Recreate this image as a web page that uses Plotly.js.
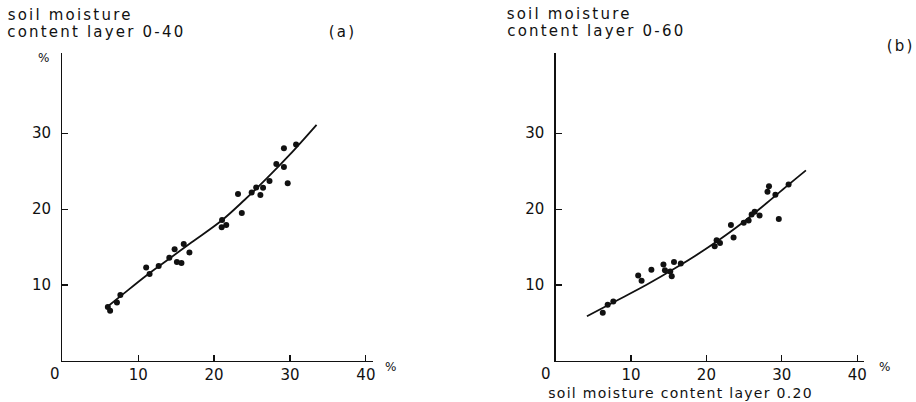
<!DOCTYPE html>
<html>
<head>
<meta charset="utf-8">
<script src="https://cdn.plot.ly/plotly-3.0.1.min.js"></script>
<style>
html,body{margin:0;padding:0;background:#fff;}
#chart{width:916px;height:402px;}
.annotation .annotation-text{letter-spacing:2.2px;}
.annotation[data-index="9"] .annotation-text{letter-spacing:1.3px;}
.annotation[data-index="6"] .annotation-text,
.annotation[data-index="7"] .annotation-text,
.annotation[data-index="8"] .annotation-text,
.annotation[data-index="10"] .annotation-text,
.annotation[data-index="11"] .annotation-text{letter-spacing:0;}
</style>
</head>
<body>
<div id="chart"></div>
<script>
// Panel (a): layer 0-20 vs layer 0-40 (%)
const aX = [6.0, 6.3, 7.2, 7.65, 11.05, 11.5, 12.7, 14.1, 14.8, 15.1, 15.7, 16.0, 16.75, 21.05, 21.0, 21.6, 23.15, 23.65, 24.95, 25.55, 26.1, 26.45, 27.3, 28.2, 29.2, 29.2, 29.7, 30.8];
const aY = [7.1, 6.6, 7.7, 8.7, 12.3, 11.45, 12.5, 13.6, 14.7, 13.05, 12.9, 15.4, 14.3, 18.55, 17.6, 17.9, 22.0, 19.5, 22.2, 22.85, 21.85, 22.8, 23.7, 25.95, 28.0, 25.55, 23.4, 28.5];
const aCurveX = [5.9, 8, 11, 14, 17, 21, 24, 27, 30, 33.5];
const aCurveY = [7.1, 8.8, 11.2, 13.4, 15.6, 18.5, 21.2, 24.1, 27.2, 31.1];

// Panel (b): layer 0-20 vs layer 0-60 (%)
const bX = [6.25, 6.9, 7.65, 10.95, 11.4, 12.7, 14.3, 14.5, 15.2, 15.4, 15.7, 16.6, 21.1, 21.35, 21.8, 23.25, 23.6, 24.95, 25.6, 26.4, 26.0, 27.05, 28.1, 28.3, 29.15, 29.6, 30.9];
const bY = [6.35, 7.4, 7.85, 11.25, 10.55, 12.0, 12.7, 11.95, 11.8, 11.15, 13.05, 12.85, 15.1, 15.9, 15.55, 17.9, 16.25, 18.2, 18.5, 19.65, 19.3, 19.15, 22.3, 23.0, 21.9, 18.7, 23.25];
const bCurveX = [4.15, 8, 12, 16, 20, 24, 28, 31, 33.2];
const bCurveY = [5.9, 7.9, 10.0, 12.3, 14.8, 17.6, 20.8, 23.3, 25.1];

const tickVals = [10, 20, 30, 40];
const yTickVals = [10, 20, 30];

const FONT = 'DejaVu Sans, sans-serif';
const ink = '#111';

const traces = [
  {x: aX, y: aY, xaxis: 'x', yaxis: 'y', mode: 'markers', type: 'scatter',
   marker: {color: ink, size: 6}, hoverinfo: 'skip'},
  {x: aCurveX, y: aCurveY, xaxis: 'x', yaxis: 'y', mode: 'lines', type: 'scatter',
   line: {color: ink, width: 1.8, shape: 'spline', smoothing: 1}, hoverinfo: 'skip'},
  {x: bX, y: bY, xaxis: 'x2', yaxis: 'y2', mode: 'markers', type: 'scatter',
   marker: {color: ink, size: 6}, hoverinfo: 'skip'},
  {x: bCurveX, y: bCurveY, xaxis: 'x2', yaxis: 'y2', mode: 'lines', type: 'scatter',
   line: {color: ink, width: 1.8, shape: 'spline', smoothing: 1}, hoverinfo: 'skip'}
];

function xAxis(domain, anchor) {
  return {domain: domain, anchor: anchor, range: [0, 40.9], showgrid: false, zeroline: false,
    showline: true, linecolor: ink, linewidth: 1.3, ticks: 'inside', ticklen: 6, tickwidth: 1.2,
    tickcolor: ink, tickvals: tickVals, ticktext: tickVals.map(String),
    tickfont: {family: FONT, size: 15, color: ink}, ticklabelstandoff: 0, fixedrange: true};
}
function yAxis(anchor) {
  return {domain: [0.102, 0.869], anchor: anchor, range: [0, 40.6], showgrid: false, zeroline: false,
    showline: true, linecolor: ink, linewidth: 1.3, ticks: 'inside', ticklen: 6, tickwidth: 1.2,
    tickcolor: ink, tickvals: yTickVals, ticktext: yTickVals.map(String),
    tickfont: {family: FONT, size: 15, color: ink}, ticklabelstandoff: 7, fixedrange: true};
}

const tf = {family: FONT, size: 15, color: ink};
const pf = {family: FONT, size: 12, color: ink};
const ann = (text, x, y, xa, ya, font) => ({text: text, x: x, y: y, xref: 'paper', yref: 'paper',
  xanchor: xa, yanchor: ya, showarrow: false, font: font || tf});

const layout = {
  width: 916, height: 402, margin: {l: 0, r: 0, t: 0, b: 0},
  paper_bgcolor: '#fff', plot_bgcolor: 'rgba(0,0,0,0)', showlegend: false,
  xaxis: xAxis([0.0680, 0.4069], 'y'),
  yaxis: yAxis('x'),
  xaxis2: xAxis([0.6066, 0.9432], 'y2'),
  yaxis2: yAxis('x2'),
  annotations: [
    ann('soil moisture', 70 / 916, 1 - 15 / 402, 'center', 'middle'),
    ann('content layer 0-40', 96 / 916, 1 - 32 / 402, 'center', 'middle'),
    ann('(a)', 342 / 916, 1 - 32 / 402, 'center', 'middle'),
    ann('soil moisture', 569 / 916, 1 - 14 / 402, 'center', 'middle'),
    ann('content layer 0-60', 596 / 916, 1 - 31 / 402, 'center', 'middle'),
    ann('(b)', 900 / 916, 1 - 46 / 402, 'center', 'middle'),
    ann('%', 43 / 916, 1 - 58 / 402, 'center', 'middle', pf),
    ann('%', 390 / 916, 1 - 367 / 402, 'center', 'middle', pf),
    ann('%', 884 / 916, 1 - 367 / 402, 'center', 'middle', pf),
    ann('soil moisture content layer 0.20', 680 / 916, 1 - 393 / 402, 'center', 'middle', {family: FONT, size: 14, color: ink}),
    {text: '0', x: 0, y: 0, xref: 'x', yref: 'y', xanchor: 'center', yanchor: 'top', xshift: -7, yshift: -2,
     showarrow: false, font: {family: FONT, size: 15, color: ink}},
    {text: '0', x: 0, y: 0, xref: 'x2', yref: 'y2', xanchor: 'center', yanchor: 'top', xshift: -10, yshift: -2,
     showarrow: false, font: {family: FONT, size: 15, color: ink}}
  ]
};

Plotly.newPlot('chart', traces, layout, {displayModeBar: false, staticPlot: true});
</script>
</body>
</html>
